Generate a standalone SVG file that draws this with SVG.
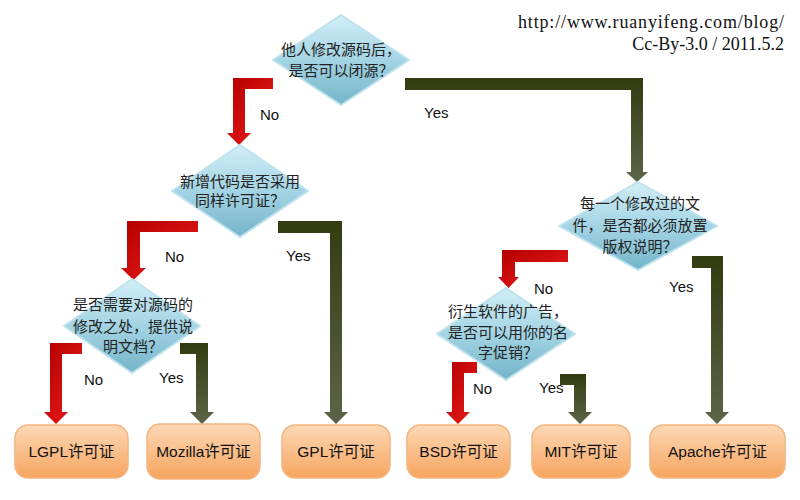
<svg xmlns="http://www.w3.org/2000/svg" width="800" height="500" viewBox="0 0 800 500">
<defs>
  <linearGradient id="gRed" x1="0" y1="0" x2="1" y2="1">
    <stop offset="0" stop-color="#b30000"/>
    <stop offset="1" stop-color="#ee1c1c"/>
  </linearGradient>
  <linearGradient id="gOlive" x1="0" y1="0" x2="0" y2="1">
    <stop offset="0" stop-color="#323c10"/>
    <stop offset="1" stop-color="#5c6448"/>
  </linearGradient>
  <linearGradient id="gDia" x1="0" y1="0" x2="0" y2="1">
    <stop offset="0" stop-color="#d2eef7"/>
    <stop offset="0.5" stop-color="#a3d4e4"/>
    <stop offset="1" stop-color="#74b4c9"/>
  </linearGradient>
  <linearGradient id="gBox" x1="0" y1="0" x2="0" y2="1">
    <stop offset="0" stop-color="#fdd8b6"/>
    <stop offset="1" stop-color="#f6a55e"/>
  </linearGradient>
</defs>
<style>
  .red { fill: url(#gRed); }
  .olive { fill: url(#gOlive); }
  .dia { fill: url(#gDia); stroke: #bde2ee; stroke-width: 2; stroke-linejoin: round; }
  .box { fill: url(#gBox); stroke: #f3b580; stroke-width: 1.5; }
  .dt { font-family: "Noto Sans CJK SC", "Liberation Sans", sans-serif; font-size: 15px; fill: #222; text-anchor: middle; }
  .bt { font-family: "Liberation Sans", "Noto Sans CJK SC", sans-serif; font-size: 15.5px; fill: #111; text-anchor: middle; }
  .lbl { font-family: "Liberation Sans", sans-serif; font-size: 15px; fill: #111; }
  .hdr { font-family: "Liberation Serif", "DejaVu Serif", serif; font-size: 18px; fill: #111; text-anchor: end; }
</style>
<rect width="800" height="500" fill="#ffffff"/>

<text class="hdr" x="784" y="28" textLength="266" lengthAdjust="spacing">http://www.ruanyifeng.com/blog/</text>
<text class="hdr" x="784" y="50">Cc-By-3.0 / 2011.5.2</text>

<g id="connectors">
  <path class="red" d="M273,78 H233 V133 H227 L239,145 L251,133 H245 V89 H273 Z"/>
  <path class="olive" d="M405,78 H643 V172 H648 L637,182 L626,172 H631 V90 H405 Z"/>
  <path class="red" d="M198,221 H127 V268 H121 L133.5,280 L146,268 H140 V232 H198 Z"/>
  <path class="olive" d="M278,221 H342 V412 H348 L336,424 L324,412 H330 V233 H278 Z"/>
  <path class="red" d="M82,343 H50 V412 H44 L56,424 L68,412 H62 V354 H82 Z"/>
  <path class="olive" d="M180,343 H208 V412 H214 L202,424 L190,412 H196 V354 H180 Z"/>
  <path class="red" d="M568,250 H502 V277 H498 L508.5,288 L519,277 H515 V262 H568 Z"/>
  <path class="olive" d="M692,256 H723 V412 H729 L717,424 L705,412 H711 V268 H692 Z"/>
  <path class="red" d="M477,362 H452 V412 H446 L458,424 L470,412 H464 V373 H477 Z"/>
  <path class="olive" d="M560,374 H586 V412 H592 L580,424 L568,412 H574 V385 H560 Z"/>
  <text class="lbl" x="260" y="120">No</text>
  <text class="lbl" x="424" y="118">Yes</text>
  <text class="lbl" x="165" y="262">No</text>
  <text class="lbl" x="286" y="261">Yes</text>
  <text class="lbl" x="84" y="385">No</text>
  <text class="lbl" x="159" y="383">Yes</text>
  <text class="lbl" x="534" y="294">No</text>
  <text class="lbl" x="669" y="292">Yes</text>
  <text class="lbl" x="473" y="394">No</text>
  <text class="lbl" x="539" y="393">Yes</text>
</g>

<g id="q1">
  <polygon class="dia" points="341,15 409,60 341,105 273,60"/>
  <text class="dt" x="341" y="55">他人修改源码后，</text>
  <text class="dt" x="341" y="76">是否可以闭源？</text>
</g>
<g id="q2">
  <polygon class="dia" points="240,145 308,191 240,237 172,191"/>
  <text class="dt" x="240" y="187">新增代码是否采用</text>
  <text class="dt" x="240" y="206">同样许可证？</text>
</g>
<g id="q3">
  <polygon class="dia" points="638,182 717,226 638,270 559,226"/>
  <text class="dt" x="640" y="209">每一个修改过的文</text>
  <text class="dt" x="640" y="231">件，是否都必须放置</text>
  <text class="dt" x="640" y="252">版权说明？</text>
</g>
<g id="q4">
  <polygon class="dia" points="132,279 200,326 132,373 64,326"/>
  <text class="dt" x="133" y="310">是否需要对源码的</text>
  <text class="dt" x="133" y="332">修改之处，提供说</text>
  <text class="dt" x="133" y="352">明文档？</text>
</g>
<g id="q5">
  <polygon class="dia" points="506,288 575,334 506,380 437,334"/>
  <text class="dt" x="508" y="317">衍生软件的广告，</text>
  <text class="dt" x="508" y="338">是否可以用你的名</text>
  <text class="dt" x="508" y="358">字促销？</text>
</g>

<g id="lgpl">
  <rect class="box" x="15" y="425" width="113" height="53" rx="13"/>
  <text class="bt" x="71.5" y="457">LGPL许可证</text>
</g>
<g id="mozilla">
  <rect class="box" x="147" y="424" width="113" height="55" rx="13"/>
  <text class="bt" x="203.5" y="457">Mozilla许可证</text>
</g>
<g id="gpl">
  <rect class="box" x="282" y="425" width="108" height="53" rx="13"/>
  <text class="bt" x="336" y="457">GPL许可证</text>
</g>
<g id="bsd">
  <rect class="box" x="407" y="425" width="103" height="53" rx="13"/>
  <text class="bt" x="458.5" y="457">BSD许可证</text>
</g>
<g id="mit">
  <rect class="box" x="532" y="425" width="98" height="53" rx="13"/>
  <text class="bt" x="581" y="457">MIT许可证</text>
</g>
<g id="apache">
  <rect class="box" x="650" y="425" width="135" height="53" rx="13"/>
  <text class="bt" x="717.5" y="457">Apache许可证</text>
</g>
</svg>
